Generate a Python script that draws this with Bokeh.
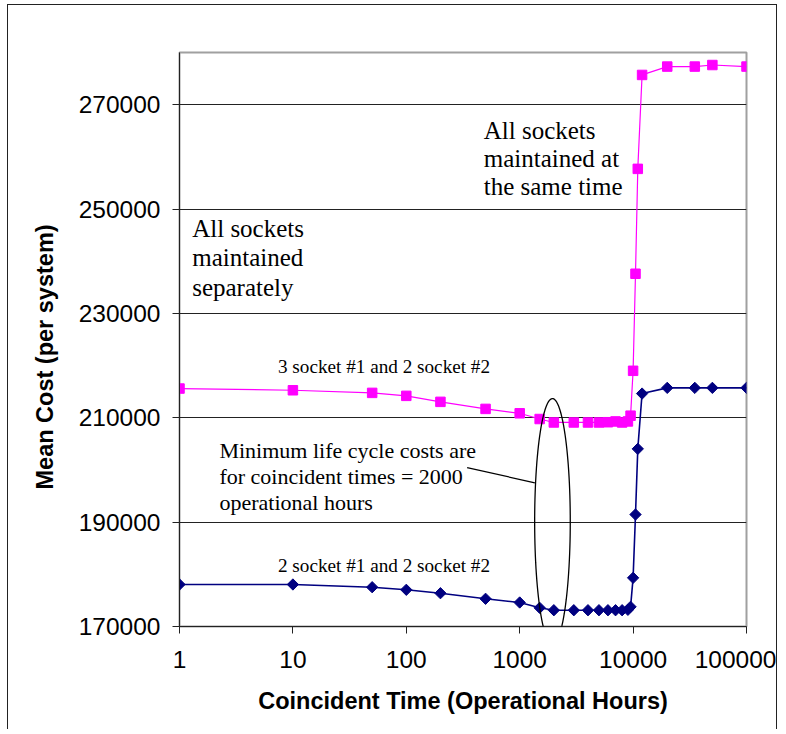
import numpy as np
from bokeh.plotting import figure
from bokeh.models import Range1d, FixedTicker, PolyAnnotation, Title
from bokeh.core.properties import value
from bokeh.embed import file_html
from bokeh.resources import INLINE

# ---- data -------------------------------------------------------------
hours = [1, 10, 50, 100, 200, 500, 1000, 1500, 2000, 3000, 4000, 5000, 6000,
         7000, 8000, 9000, 9500, 10000, 10500, 11000, 12000, 20000, 35000,
         50000, 100000]
cost_3s1_2s2 = [215600, 215270, 214770, 214200, 213050, 211700, 210860,
                209760, 209100, 209100, 209100, 209100, 209150, 209300,
                209100, 209300, 210400, 219000, 237600, 257700, 275700,
                277300, 277300, 277600, 277300]
cost_2s1_2s2 = [178050, 178050, 177530, 177030, 176380, 175310, 174600,
                173580, 173120, 173120, 173120, 173120, 173120, 173120,
                173120, 173200, 173770, 179330, 191460, 204040, 214640,
                215730, 215730, 215730, 215730]

x_ticks = [1, 10, 100, 1000, 10000, 100000]
x_tick_labels = ["1", "10", "100", "1000", "10000", "100000"]
y_ticks = [170000, 190000, 210000, 230000, 250000, 270000]

x_title = "Coincident Time (Operational Hours)"
y_title = "Mean Cost (per system)"

# annotation texts (lines) and anchors in data coordinates
big_lines = ["All sockets", "maintained at", "the same time",
             "All sockets", "maintained", "separately"]
big_x = [482, 482, 482, 1.294, 1.294, 1.294]
big_y = [265080, 259750, 254350, 246250, 240620, 234980]

min_lines = ["Minimum life cycle costs are", "for coincident times = 2000",
             "operational hours"]
min_x = [2.25, 2.25, 2.25]
min_y = [203660, 198680, 193700]

series_labels = ["3 socket #1 and 2 socket #2", "2 socket #1 and 2 socket #2"]
series_label_x = [63.6, 63.6]
series_label_y = [219850, 181690]

# ellipse around minimum (center hours, center cost, half-width decades, half-height cost)
ell_cx, ell_cy, ell_hw, ell_hh = 1945, 190115, 0.157, 23560
leader_x = [344, 1360]
leader_y = [200460, 197530]

# ---- figure -----------------------------------------------------------
p = figure(x_axis_type="log",
           x_range=Range1d(1, 100000), y_range=Range1d(170000, 280000),
           frame_width=567, frame_height=574,
           min_border_left=171, min_border_top=47,
           min_border_right=30, min_border_bottom=103,
           output_backend="svg", toolbar_location=None)
p.styles = {"margin-left": "7px", "margin-top": "4px",
            "border-left": "1.5px solid #222", "border-top": "1.5px solid #222",
            "border-right": "1.5px solid #222"}
p.outline_line_color = "#a0a0a0"
p.outline_line_width = 2
p.background_fill_color = "white"

# axes
p.xaxis.ticker = FixedTicker(ticks=x_ticks, minor_ticks=[])
p.xaxis.major_label_overrides = {t: l for t, l in zip(x_ticks, x_tick_labels)}
p.yaxis.ticker = FixedTicker(ticks=y_ticks, minor_ticks=[])
p.yaxis.formatter.use_scientific = False
for ax in (p.xaxis, p.yaxis):
    ax.major_tick_in = 0
    ax.major_tick_out = 7
    ax.minor_tick_in = 0
    ax.minor_tick_out = 0
    ax.axis_line_color = "#222"
    ax.major_tick_line_color = "#222"
    ax.major_label_text_font = "Liberation Sans"
    ax.major_label_text_font_size = "24.5px"
    ax.major_label_text_color = "black"
    ax.axis_label_text_font = "Liberation Sans"
    ax.axis_label_text_font_size = "23.5px"
    ax.axis_label_text_font_style = "bold"
    ax.axis_label_text_color = "black"
p.xaxis.axis_label = x_title
p.yaxis.major_label_standoff = 12
p.xaxis.major_label_standoff = 17
p.xaxis.axis_label_standoff = 17

p.xgrid.visible = False
p.ygrid.ticker = FixedTicker(ticks=y_ticks)
p.ygrid.grid_line_color = "#222"
p.ygrid.grid_line_width = 1

# y-axis title (sits a little below the frame centre in the original)
p.add_layout(Title(text=y_title, align="left", offset=137, standoff=36,
                   text_font="Liberation Sans", text_font_size="23.5px",
                   text_font_style="bold", text_color="black"), "left")

# series
p.line(hours, cost_3s1_2s2, line_color="#FF00FF", line_width=1.2)
p.scatter(hours, cost_3s1_2s2, marker="square", size=9.5,
          fill_color="#FF00FF", line_color="#FF00FF")
p.line(hours, cost_2s1_2s2, line_color="#000080", line_width=1.6)
p.scatter(hours, cost_2s1_2s2, marker="square", angle=np.pi / 4, size=8,
          fill_color="#000080", line_color="#000080")

# annotations
p.text(x=big_x, y=big_y, text=big_lines, text_font=value("Liberation Serif"),
       text_font_size="25px", text_align="left", text_baseline="alphabetic",
       text_color="black")
p.text(x=min_x, y=min_y, text=min_lines, text_font=value("Liberation Serif"),
       text_font_size="22px", text_align="left", text_baseline="alphabetic",
       text_color="black")
p.text(x=series_label_x, y=series_label_y, text=series_labels,
       text_font=value("Liberation Serif"), text_font_size="19.2px",
       text_align="center", text_baseline="alphabetic", text_color="black")

t = np.linspace(0, 2 * np.pi, 120)
ell_xs = 10 ** (np.log10(ell_cx) + ell_hw * np.cos(t))
ell_ys = ell_cy + ell_hh * np.sin(t)
p.add_layout(PolyAnnotation(xs=list(ell_xs), ys=list(ell_ys), fill_alpha=0,
                            line_color="black", line_alpha=1.0, line_width=1.3))
p.line(leader_x, leader_y, line_color="black", line_width=1.2)

open("out.html", "w").write(file_html(p, INLINE))
